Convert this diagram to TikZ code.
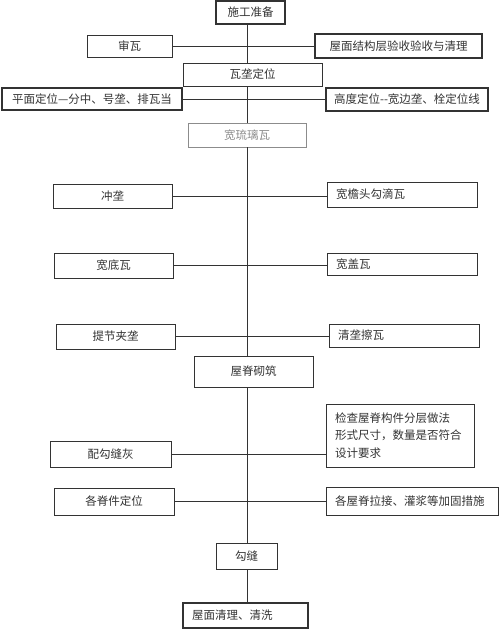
\documentclass[tikz,border=0pt]{standalone}
\usepackage{fontspec}
\setmainfont{Noto Sans CJK SC}
\usepackage{tikz}
\usetikzlibrary{positioning}
\definecolor{ink}{HTML}{333333}
\definecolor{paleink}{HTML}{8C8C8C}

\begin{document}
\begin{tikzpicture}[x=1pt, y=-1pt,
    box/.style={draw=ink, line width=0.9pt, inner sep=0pt, text=ink,
      font=\fontsize{11.5}{17.5}\selectfont},
    lbox/.style={box, align=left, inner xsep=9pt},
    link/.style={draw=ink, line width=0.9pt}]
  \useasboundingbox (0,0) rectangle (500,629);
  \coordinate (spine) at (247,0);

  % main steps down the middle
  \node[box, line width=1.3pt, minimum width=69pt, minimum height=23pt] (prep) at (250.5,12.5) {施工准备};
  \node[box, minimum width=139pt, minimum height=23pt] (wlong) at (252.5,74.5) {瓦垄定位};
  \node[box, draw=paleink, text=paleink, minimum width=118pt, minimum height=24pt] (wliuli) at (247,135) {宽琉璃瓦};
  \node[box, minimum width=119pt, minimum height=31pt] (wuji) at (253.5,371.5) {屋脊砌筑};
  \node[box, minimum width=61pt, minimum height=26pt] (gouf) at (246.5,556) {勾缝};
  \node[lbox, line width=1.3pt, text width=107pt, minimum height=25pt] (qingli) at (245.5,615.5) {屋面清理、清洗};

  % left side
  \node[box, minimum width=85pt, minimum height=22pt] (shenwa) at (129.5,46) {审瓦};
  \node[box, line width=1.2pt, minimum width=180pt, minimum height=22pt] (pmdw) at (92,99) {平面定位—分中、号垄、排瓦当};
  \node[box, minimum width=119pt, minimum height=24pt] (chlong) at (112.5,196) {冲垄};
  \node[box, minimum width=119pt, minimum height=25pt] (wdiwa) at (113.5,265.5) {宽底瓦};
  \node[box, minimum width=119pt, minimum height=25pt] (tijie) at (115.5,336.5) {提节夹垄};
  \node[box, minimum width=121pt, minimum height=26pt] (peigou) at (110.5,454) {配勾缝灰};
  \node[box, minimum width=120pt, minimum height=27pt] (jijian) at (114,501.5) {各脊件定位};

  % right side
  \node[box, line width=1.2pt, minimum width=167pt, minimum height=24pt] (wmys) at (398.5,46) {屋面结构层验收验收与清理};
  \node[box, line width=1.2pt, minimum width=162pt, minimum height=23pt] (gddw) at (407,99.5) {高度定位{-}{-}宽边垄、栓定位线};
  \node[lbox, text width=132pt, minimum height=25pt] (wyantou) at (402,194.5) {宽檐头勾滴瓦};
  \node[lbox, text width=132pt, minimum height=22pt] (wgaiwa) at (402,264) {宽盖瓦};
  \node[lbox, text width=132pt, minimum height=23pt] (qlong) at (404,335.5) {清垄擦瓦};
  \node[lbox, text width=130pt, minimum height=63pt] (jiancha) at (400,435.5) {检查屋脊构件分层做法\\形式尺寸，数量是否符合\\设计要求};
  \node[lbox, text width=154pt, minimum height=28pt] (lajie) at (412,501) {各屋脊拉接、灌浆等加固措施};

  % spine
  \draw[link] (prep.south -| spine) -- (wlong.north -| spine);
  \draw[link] (wlong.south -| spine) -- (wliuli.north -| spine);
  \draw[link] (wliuli.south -| spine) -- (wuji.north -| spine);
  \draw[link] (wuji.south -| spine) -- (gouf.north -| spine);
  \draw[link] (gouf.south -| spine) -- (qingli.north -| spine);

  % cross links
  \draw[link] (shenwa.east) -- (shenwa.east -| wmys.west);
  \draw[link] (pmdw.east) -- (pmdw.east -| gddw.west);
  \draw[link] (chlong.east) -- (chlong.east -| wyantou.west);
  \draw[link] (wdiwa.east) -- (wdiwa.east -| wgaiwa.west);
  \draw[link] (tijie.east) -- (tijie.east -| qlong.west);
  \draw[link] (peigou.east) -- (peigou.east -| jiancha.west);
  \draw[link] (jijian.east) -- (jijian.east -| lajie.west);
\end{tikzpicture}
\end{document}
